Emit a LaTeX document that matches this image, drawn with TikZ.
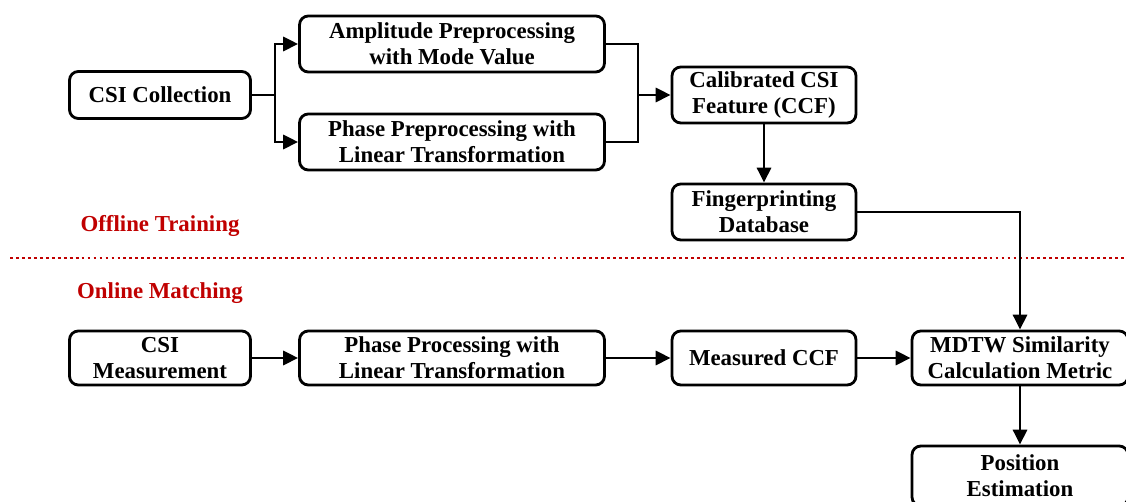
\documentclass[tikz,border=0pt]{standalone}
\usepackage{fontspec}
\setmainfont{Liberation Serif}
\usetikzlibrary{arrows.meta}
\definecolor{darkred}{RGB}{192,0,0}
\begin{document}
\begin{tikzpicture}[x=0.02cm, y=-0.02cm,
  box/.style={draw, line width=1.6pt, rounded corners=5pt, align=center,
    minimum height=1.12cm, inner sep=1pt,
    font=\fontsize{13}{15}\selectfont\bfseries},
  flow/.style={line width=1.6pt, -{Triangle[length=8.5pt,width=8pt]}},
  link/.style={line width=1.6pt},
  phase/.style={text=darkred, font=\fontsize{13}{15}\selectfont\bfseries}]
  \clip (0,0) rectangle (1126,502);
  % offline part
  \node[box, minimum width=3.62cm, minimum height=0.94cm] (coll) at (160,95) {CSI Collection};
  \node[box, minimum width=6.1cm] (amp) at (452,44) {Amplitude Preprocessing\\with Mode Value};
  \node[box, minimum width=6.1cm] (pha) at (452,142) {Phase Preprocessing with\\Linear Transformation};
  \node[box, minimum width=3.68cm] (ccf) at (764,95) {Calibrated CSI\\Feature (CCF)};
  \node[box, minimum width=3.68cm] (fdb) at (764,212) {Fingerprinting\\Database};
  \coordinate (split) at (275,95);
  \coordinate (merge) at (638,95);
  \draw[link] (coll) -- (split);
  \draw[flow] (split) |- (amp);
  \draw[flow] (split) |- (pha);
  \draw[link] (amp) -| (merge);
  \draw[link] (pha) -| (merge);
  \draw[flow] (merge) -- (ccf);
  \draw[flow] (ccf) -- (fdb);
  % separator
  \node[phase] (off) at (160,226) {Offline Training};
  \node[phase] (on) at (160,293) {Online Matching};
  \draw[darkred, line width=1.6pt, dash pattern=on 1.6pt off 1.8pt] (10,258) -- (1126,258);
  % online part
  \node[box, minimum width=3.62cm, minimum height=1.08cm] (meas) at (160,358) {CSI\\Measurement};
  \node[box, minimum width=6.1cm, minimum height=1.08cm] (proc) at (452,358) {Phase Processing with\\Linear Transformation};
  \node[box, minimum width=3.68cm, minimum height=1.08cm] (mccf) at (764,358) {Measured CCF};
  \node[box, minimum width=4.32cm, minimum height=1.08cm] (mdtw) at (1020,358) {MDTW Similarity\\Calculation Metric};
  \node[box, minimum width=4.32cm, minimum height=1.2cm] (pos) at (1020,476) {Position\\Estimation};
  \draw[flow] (meas) -- (proc);
  \draw[flow] (proc) -- (mccf);
  \draw[flow] (mccf) -- (mdtw);
  \draw[flow] (fdb) -| (mdtw);
  \draw[flow] (mdtw) -- (pos);
\end{tikzpicture}
\end{document}
